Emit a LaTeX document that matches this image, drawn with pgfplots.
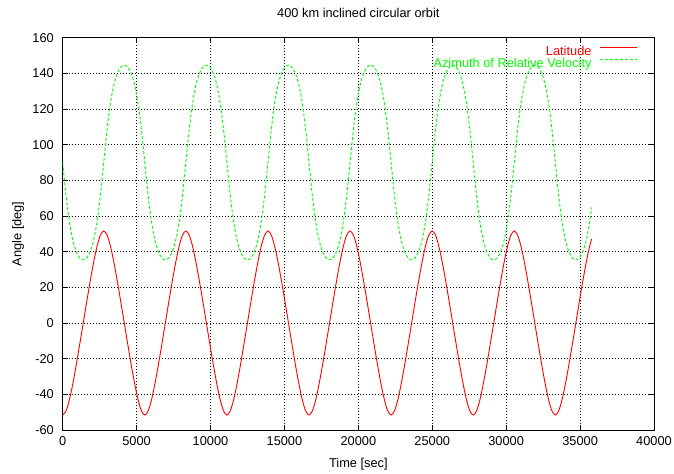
\documentclass[border=0pt]{standalone}
\usepackage{pgfplots}
\pgfplotsset{compat=1.18}
\usepackage{pgfplotstable}
\usepackage{fontspec}
\setmainfont{Liberation Sans}
\newcommand{\gf}{\fontsize{12.8bp}{14bp}\selectfont}

\pgfplotstableread{
t lat az
0 -51.60 90.00
231 -49.20 71.14
463 -42.74 56.25
694 -33.65 46.13
926 -23.07 39.86
1157 -11.70 36.46
1389 0.00 35.39
1620 11.70 36.46
1851 23.07 39.86
2083 33.65 46.13
2314 42.74 56.25
2546 49.20 71.14
2777 51.60 90.00
3008 49.20 108.86
3240 42.74 123.75
3471 33.65 133.87
3703 23.07 140.14
3934 11.70 143.54
4166 0.00 144.61
4397 -11.70 143.54
4628 -23.07 140.14
4860 -33.65 133.87
5091 -42.74 123.75
5323 -49.20 108.86
5554 -51.60 90.00
5785 -49.20 71.14
6017 -42.74 56.25
6248 -33.65 46.13
6480 -23.07 39.86
6711 -11.70 36.46
6943 0.00 35.39
7174 11.70 36.46
7405 23.07 39.86
7637 33.65 46.13
7868 42.74 56.25
8100 49.20 71.14
8331 51.60 90.00
8562 49.20 108.86
8794 42.74 123.75
9025 33.65 133.87
9257 23.07 140.14
9488 11.70 143.54
9720 0.00 144.61
9951 -11.70 143.54
10182 -23.07 140.14
10414 -33.65 133.87
10645 -42.74 123.75
10877 -49.20 108.86
11108 -51.60 90.00
11339 -49.20 71.14
11571 -42.74 56.25
11802 -33.65 46.13
12034 -23.07 39.86
12265 -11.70 36.46
12497 0.00 35.39
12728 11.70 36.46
12959 23.07 39.86
13191 33.65 46.13
13422 42.74 56.25
13654 49.20 71.14
13885 51.60 90.00
14116 49.20 108.86
14348 42.74 123.75
14579 33.65 133.87
14811 23.07 140.14
15042 11.70 143.54
15274 0.00 144.61
15505 -11.70 143.54
15736 -23.07 140.14
15968 -33.65 133.87
16199 -42.74 123.75
16431 -49.20 108.86
16662 -51.60 90.00
16893 -49.20 71.14
17125 -42.74 56.25
17356 -33.65 46.13
17588 -23.07 39.86
17819 -11.70 36.46
18051 0.00 35.39
18282 11.70 36.46
18513 23.07 39.86
18745 33.65 46.13
18976 42.74 56.25
19208 49.20 71.14
19439 51.60 90.00
19670 49.20 108.86
19902 42.74 123.75
20133 33.65 133.87
20365 23.07 140.14
20596 11.70 143.54
20828 0.00 144.61
21059 -11.70 143.54
21290 -23.07 140.14
21522 -33.65 133.87
21753 -42.74 123.75
21985 -49.20 108.86
22216 -51.60 90.00
22447 -49.20 71.14
22679 -42.74 56.25
22910 -33.65 46.13
23142 -23.07 39.86
23373 -11.70 36.46
23605 0.00 35.39
23836 11.70 36.46
24067 23.07 39.86
24299 33.65 46.13
24530 42.74 56.25
24762 49.20 71.14
24993 51.60 90.00
25224 49.20 108.86
25456 42.74 123.75
25687 33.65 133.87
25919 23.07 140.14
26150 11.70 143.54
26382 0.00 144.61
26613 -11.70 143.54
26844 -23.07 140.14
27076 -33.65 133.87
27307 -42.74 123.75
27539 -49.20 108.86
27770 -51.60 90.00
28001 -49.20 71.14
28233 -42.74 56.25
28464 -33.65 46.13
28696 -23.07 39.86
28927 -11.70 36.46
29159 0.00 35.39
29390 11.70 36.46
29621 23.07 39.86
29853 33.65 46.13
30084 42.74 56.25
30316 49.20 71.14
30547 51.60 90.00
30778 49.20 108.86
31010 42.74 123.75
31241 33.65 133.87
31473 23.07 140.14
31704 11.70 143.54
31936 0.00 144.61
32167 -11.70 143.54
32398 -23.07 140.14
32630 -33.65 133.87
32861 -42.74 123.75
33093 -49.20 108.86
33324 -51.60 90.00
33555 -49.20 71.14
33787 -42.74 56.25
34018 -33.65 46.13
34250 -23.07 39.86
34481 -11.70 36.46
34713 0.00 35.39
34944 11.70 36.46
35175 23.07 39.86
35407 33.65 46.13
35638 42.74 56.25
35780 47.11 64.81
}\orbit

\begin{document}
\begin{tikzpicture}
\begin{axis}[
  at={(0,0)}, anchor=south west,
  scale only axis, width=591.3bp, height=392.3bp,
  xmin=0, xmax=40000, ymin=-60, ymax=160,
  xtick={0,5000,...,40000}, ytick={-60,-40,...,160},
  scaled x ticks=false, scaled y ticks=false,
  /pgf/number format/1000 sep={},
  /pgf/number format/assume math mode=true,
  tick label style={font=\gf},
  xticklabel style={anchor=base, inner sep=0pt, yshift=-15.5bp},
  yticklabel style={anchor=east, inner sep=0pt, xshift=-8.7bp},
  tick align=inside, major tick length=5bp,
  tick style={black, line width=0.8bp},
  axis line style={black, line width=1bp},
  grid=major,
  major grid style={black, line width=0.5bp, dash pattern=on 1bp off 2bp},
  title={400 km inclined circular orbit},
  title style={font=\gf, at={(axis description cs:0.5,1)}, anchor=base, yshift=14.7bp, inner sep=0pt},
  xlabel={Time [sec]},
  xlabel style={font=\gf, at={(axis description cs:0.5,0)}, anchor=base, yshift=-37bp, inner sep=0pt},
  ylabel={Angle [deg]},
  ylabel style={font=\gf, at={(axis description cs:-0.0697,0.5)}, anchor=base, inner sep=0pt},
  legend plot pos=right,
  legend style={at={(axis description cs:1,1)}, anchor=north east, xshift=-16bp, yshift=-8.3bp,
    draw=none, fill=none, font=\gf, inner sep=0pt, row sep=1.6bp, column sep=8.3bp,
    cells={anchor=east},
    nodes={inner sep=0pt, text height=9bp, text depth=2bp}},
]
\addplot[red, line width=0.9bp, smooth,
  legend image code/.code={\path (0bp,0bp); \draw[red, line width=1bp] (0bp,4.5bp) -- (37bp,4.5bp);}]
  table[x=t, y=lat] {\orbit};
\addlegendentry[text=red]{Latitude}
\addplot[green, line width=0.9bp, smooth, dash pattern=on 3bp off 2bp,
  legend image code/.code={\path (0bp,0bp); \draw[green, line width=0.9bp, dash pattern=on 3bp off 2bp] (0bp,4.5bp) -- (37bp,4.5bp);}]
  table[x=t, y=az] {\orbit};
\addlegendentry[text=green]{Azimuth of Relative Velocity}
\end{axis}
\pgfresetboundingbox
\useasboundingbox (-62.7bp,-44bp) rectangle (611.3bp,430bp);
\end{tikzpicture}
\end{document}
